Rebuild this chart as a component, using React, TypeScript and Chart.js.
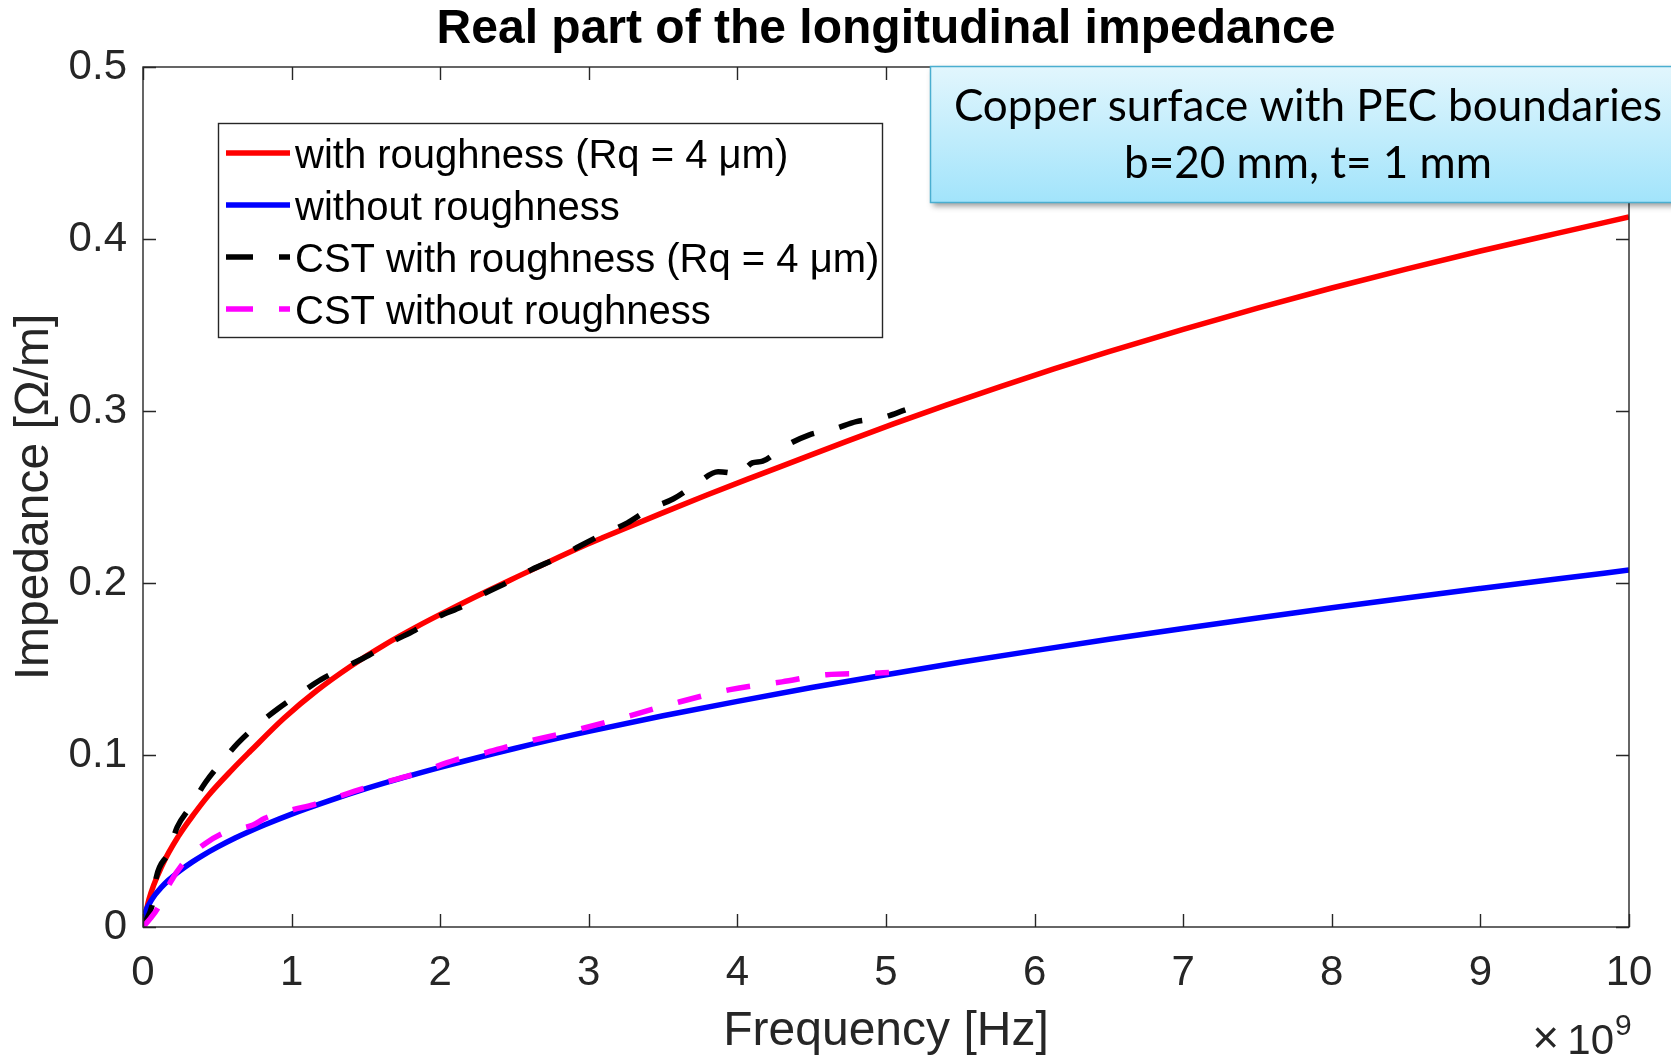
import React, { useEffect, useRef } from 'react';
import { Chart, registerables } from 'chart.js';

Chart.register(...registerables);

// ---------- text ----------
const TITLE = 'Real part of the longitudinal impedance';
const X_LABEL = 'Frequency [Hz]';
const Y_LABEL = 'Impedance [Ω/m]';
const X_EXPONENT_TIMES = '×';
const X_EXPONENT_BASE = '10';
const X_EXPONENT_POWER = '9';
const SERIES_LABELS = [
  'with roughness (Rq = 4 μm)',
  'without roughness',
  'CST with roughness (Rq = 4 μm)',
  'CST without roughness',
];
const NOTE_LINES = ['Copper surface with PEC boundaries', 'b=20 mm, t= 1 mm'];

// ---------- ticks (frequency in units of 10^9 Hz) ----------
const X_TICKS = [0, 1, 2, 3, 4, 5, 6, 7, 8, 9, 10];
const Y_TICKS = [0, 0.1, 0.2, 0.3, 0.4, 0.5];

// ---------- data ----------
// with roughness (analytic, red)
const roughFreq = [0, 0.04, 0.13, 0.24, 0.35, 0.44, 0.6, 0.72, 0.95, 1.17, 1.4, 1.62, 1.84, 2.07, 2.29, 2.52, 2.74, 2.97, 3.1, 3.48, 3.79, 4.1, 4.4, 4.73, 5.05, 5.4, 5.77, 6.13, 6.5, 7.0, 7.5, 8.0, 8.5, 9.0, 9.5, 10];
const roughImp = [0, 0.016, 0.036, 0.053, 0.0665, 0.0765, 0.0915, 0.102, 0.1215, 0.1375, 0.1518, 0.1638, 0.1745, 0.1848, 0.1942, 0.2037, 0.2127, 0.2218, 0.2266, 0.2402, 0.251, 0.2614, 0.2713, 0.2822, 0.2925, 0.3033, 0.3142, 0.3245, 0.3345, 0.3475, 0.3598, 0.3715, 0.3825, 0.393, 0.403, 0.4128];

// without roughness (analytic, blue)
const smoothFreq = [0, 0.02, 0.04, 0.08, 0.12, 0.17, 0.25, 0.33, 0.4, 0.5, 0.62, 0.7, 0.82, 1, 1.25, 1.5, 1.75, 2, 2.5, 3, 3.5, 4, 4.5, 5, 5.5, 6, 6.5, 7, 7.5, 8, 8.5, 9, 9.5, 10];
const smoothImp = [0, 0.0093, 0.0131, 0.0186, 0.0227, 0.0271, 0.0328, 0.0377, 0.0415, 0.0464, 0.0517, 0.0549, 0.0594, 0.0656, 0.0733, 0.0804, 0.0868, 0.0928, 0.1038, 0.1137, 0.1228, 0.1312, 0.1392, 0.1467, 0.1539, 0.1607, 0.1673, 0.1736, 0.1797, 0.1856, 0.1913, 0.1968, 0.2022, 0.2075];

// CST with roughness (black dashed)
const cstRoughFreq = [0, 0.01, 0.065, 0.09, 0.17, 0.23, 0.32, 0.42, 0.52, 0.64, 0.75, 0.91, 1.06, 1.2, 1.36, 1.52, 1.68, 1.83, 1.99, 2.15, 2.3, 2.47, 2.62, 2.79, 2.94, 3.11, 3.26, 3.41, 3.57, 3.73, 3.87, 3.95, 4.02, 4.06, 4.1, 4.17, 4.31, 4.48, 4.65, 4.8, 4.98, 5.13];
const cstRoughImp = [0, 0.002, 0.014, 0.029, 0.043, 0.058, 0.07, 0.084, 0.095, 0.107, 0.116, 0.127, 0.136, 0.144, 0.151, 0.158, 0.166, 0.1725, 0.1805, 0.1865, 0.194, 0.201, 0.208, 0.2145, 0.2215, 0.229, 0.235, 0.243, 0.249, 0.258, 0.2647, 0.264, 0.2625, 0.267, 0.2698, 0.2708, 0.279, 0.286, 0.2895, 0.2938, 0.2962, 0.3006];

// CST without roughness (magenta dashed)
const cstSmoothFreq = [0, 0.05, 0.1, 0.18, 0.28, 0.42, 0.56, 0.74, 0.82, 1.0, 1.15, 1.5, 1.85, 2.1, 2.27, 2.5, 2.87, 3.2, 3.55, 3.95, 4.3, 4.6, 4.9, 5.02];
const cstSmoothImp = [0, 0.005, 0.011, 0.0254, 0.038, 0.0486, 0.0554, 0.0593, 0.0632, 0.068, 0.0712, 0.081, 0.0895, 0.097, 0.1005, 0.106, 0.1135, 0.121, 0.1295, 0.138, 0.1425, 0.1467, 0.1475, 0.148];

// ---------- styles ----------
const FONT = "'Liberation Sans', Arial, Helvetica, sans-serif";
const NOTE_FONT = "Lato, 'Open Sans', sans-serif";
const AXIS_COLOR = '#262626';
const COLORS = ['#ff0000', '#0000ff', '#000000', '#ff00ff'];
const DASH = [24, 26];
const LINE_W = 5.5;

const zip = (xs: number[], ys: number[]) => xs.map((x, i) => ({ x, y: ys[i] }));

const framePlugin = {
  id: 'matlabFrame',
  afterDatasetsDraw(chart: any) {
    const { ctx, chartArea: a, scales } = chart;
    ctx.save();
    // axes box
    ctx.strokeStyle = AXIS_COLOR;
    ctx.lineWidth = 1.4;
    ctx.strokeRect(a.left, a.top, a.right - a.left, a.bottom - a.top);
    // inner ticks on all four sides
    const tl = 13;
    ctx.beginPath();
    for (const v of X_TICKS) {
      const px = Math.round(scales.x.getPixelForValue(v)) + 0.5;
      ctx.moveTo(px, a.bottom);
      ctx.lineTo(px, a.bottom - tl);
      ctx.moveTo(px, a.top);
      ctx.lineTo(px, a.top + tl);
    }
    for (const v of Y_TICKS) {
      const py = Math.round(scales.y.getPixelForValue(v)) + 0.5;
      ctx.moveTo(a.left, py);
      ctx.lineTo(a.left + tl, py);
      ctx.moveTo(a.right, py);
      ctx.lineTo(a.right - tl, py);
    }
    ctx.stroke();

    // legend box
    const lx = 218, ly = 123, lw = 664, lh = 214;
    ctx.fillStyle = '#ffffff';
    ctx.fillRect(lx, ly, lw, lh);
    ctx.lineWidth = 1.4;
    ctx.strokeStyle = AXIS_COLOR;
    ctx.strokeRect(lx + 0.5, ly + 0.5, lw, lh);
    const rowY = [153, 205, 257, 309];
    chart.data.datasets.forEach((ds: any, i: number) => {
      const y = rowY[i];
      ctx.beginPath();
      ctx.setLineDash(ds.borderDash ? [27, 26] : []);
      ctx.lineDashOffset = 0;
      ctx.strokeStyle = ds.borderColor;
      ctx.lineWidth = LINE_W;
      ctx.lineCap = 'butt';
      ctx.moveTo(226, y);
      ctx.lineTo(290, y);
      ctx.stroke();
      ctx.setLineDash([]);
      ctx.fillStyle = '#000000';
      ctx.font = `40px ${FONT}`;
      ctx.textAlign = 'left';
      ctx.textBaseline = 'alphabetic';
      ctx.fillText(ds.label, 295, y + 14.5);
    });
    ctx.restore();
  },
  afterDraw(chart: any) {
    const { ctx, chartArea: a } = chart;
    ctx.save();
    // x10^9 exponent label
    ctx.fillStyle = AXIS_COLOR;
    ctx.textBaseline = 'alphabetic';
    ctx.font = `42px ${FONT}`;
    ctx.textAlign = 'right';
    ctx.fillText(X_EXPONENT_BASE, a.right - 15, 1054);
    ctx.font = `46px ${FONT}`;
    ctx.fillText(X_EXPONENT_TIMES, a.right - 70, 1053);
    ctx.font = `30px ${FONT}`;
    ctx.textAlign = 'left';
    ctx.fillText(X_EXPONENT_POWER, a.right - 14, 1035);

    // annotation box
    const bx = 930, by = 66, bw = 780, bh = 136;
    ctx.save();
    ctx.shadowColor = 'rgba(0,0,0,0.4)';
    ctx.shadowOffsetX = 3;
    ctx.shadowOffsetY = 4;
    ctx.shadowBlur = 6;
    const g = ctx.createLinearGradient(0, by, 0, by + bh);
    g.addColorStop(0, '#e2f6fd');
    g.addColorStop(1, '#a2e4fb');
    ctx.fillStyle = g;
    ctx.fillRect(bx, by, bw, bh);
    ctx.restore();
    ctx.strokeStyle = '#4aaed0';
    ctx.lineWidth = 1.5;
    ctx.strokeRect(bx + 0.5, by + 0.5, bw, bh);
    // fit text width to reference
    ctx.font = `40px ${NOTE_FONT}`;
    const w40 = ctx.measureText(NOTE_LINES[0]).width;
    const size = 40 * 708 / w40;
    ctx.font = `${size.toFixed(1)}px ${NOTE_FONT}`;
    ctx.fillStyle = '#000000';
    ctx.textAlign = 'center';
    ctx.fillText(NOTE_LINES[0], 1308, 121);
    ctx.fillText(NOTE_LINES[1], 1308, 178);
    ctx.restore();
  },
};

export default function App() {
  const ref = useRef<HTMLCanvasElement>(null);
  useEffect(() => {
    if (!ref.current) return;
    const mk = (i: number, xs: number[], ys: number[], order: number, dashed: boolean) => ({
      label: SERIES_LABELS[i],
      data: zip(xs, ys),
      borderColor: COLORS[i],
      backgroundColor: COLORS[i],
      borderWidth: LINE_W,
      borderDash: dashed ? DASH : undefined,
      pointRadius: 0,
      fill: false,
      cubicInterpolationMode: 'monotone' as const,
      order,
    });
    const chart = new Chart(ref.current, {
      type: 'line',
      data: {
        datasets: [
          mk(0, roughFreq, roughImp, 3, false),
          mk(1, smoothFreq, smoothImp, 2, false),
          mk(2, cstRoughFreq, cstRoughImp, 1, true),
          mk(3, cstSmoothFreq, cstSmoothImp, 0, true),
        ],
      },
      options: {
        animation: false,
        responsive: false,
        devicePixelRatio: 1,
        layout: { padding: { top: 0, right: 42, bottom: 0, left: 0 } },
        plugins: {
          legend: { display: false },
          tooltip: { enabled: false },
          title: {
            display: true,
            text: TITLE,
            fullSize: false,
            color: '#000000',
            font: { family: FONT, size: 48, weight: 'bold', lineHeight: 1.2 },
            padding: { top: 1, bottom: 8.4 },
          },
        },
        scales: {
          x: {
            type: 'linear',
            min: 0,
            max: 10,
            afterBuildTicks: (s: any) => { s.ticks = X_TICKS.map((v) => ({ value: v })); },
            afterFit: (s: any) => { s.height = 130; s.paddingLeft = 0; s.paddingRight = 0; },
            grid: { display: false, drawTicks: false },
            border: { display: false },
            ticks: {
              font: { family: FONT, size: 42 },
              color: AXIS_COLOR,
              padding: 21,
              maxRotation: 0,
              autoSkip: false,
            },
            title: {
              display: true,
              text: X_LABEL,
              color: AXIS_COLOR,
              font: { family: FONT, size: 48, lineHeight: 1 },
              padding: { top: 0, bottom: 1.5 },
            },
          },
          y: {
            type: 'linear',
            min: 0,
            max: 0.5,
            afterBuildTicks: (s: any) => { s.ticks = Y_TICKS.map((v) => ({ value: v })); },
            afterFit: (s: any) => { s.width = 143; s.paddingTop = 0; s.paddingBottom = 0; },
            grid: { display: false, drawTicks: false },
            border: { display: false },
            ticks: {
              font: { family: FONT, size: 42 },
              color: AXIS_COLOR,
              padding: 16,
              callback: (v: any) => String(Math.round(Number(v) * 10) / 10),
            },
            title: {
              display: true,
              text: Y_LABEL,
              color: AXIS_COLOR,
              font: { family: FONT, size: 48, lineHeight: 1 },
              padding: { top: 11, bottom: 0 },
            },
          },
        },
      },
      plugins: [framePlugin],
    } as any);
    return () => chart.destroy();
  }, []);
  return (
    <div style={{ position: 'fixed', left: 0, top: 0, width: 1671, height: 1057, background: '#ffffff' }}>
      <canvas ref={ref} width={1671} height={1057} style={{ width: 1671, height: 1057, display: 'block' }} />
    </div>
  );
}
